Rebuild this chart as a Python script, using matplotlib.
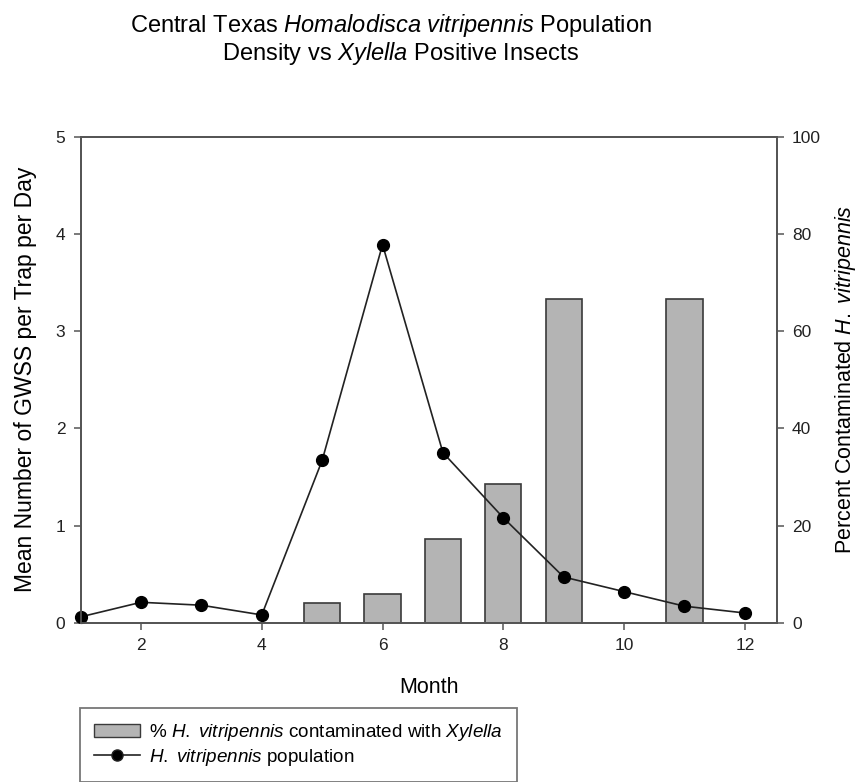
import numpy as np
import matplotlib.pyplot as plt
from matplotlib.patches import Patch
from matplotlib.lines import Line2D

plt.rcParams['font.family'] = ['Liberation Sans', 'DejaVu Sans']
plt.rcParams['mathtext.fontset'] = 'custom'
plt.rcParams['mathtext.rm'] = 'Liberation Sans'
plt.rcParams['mathtext.it'] = 'Liberation Sans:italic'

# Data
months = [1, 2, 3, 4, 5, 6, 7, 8, 9, 10, 11, 12]
population = [0.06, 0.21, 0.18, 0.08, 1.67, 3.89, 1.75, 1.08, 0.47, 0.32, 0.17, 0.10]
bar_months = [5, 6, 7, 8, 9, 11]
pct_contaminated = [4.0, 5.9, 17.2, 28.6, 66.7, 66.7]

spine_col = '#555555'

fig = plt.figure(figsize=(8.67, 7.82), dpi=100)
ax = fig.add_axes([0.093, 0.2037, 0.803, 0.6215])
ax2 = ax.twinx()

# Bars on the right (percent) axis
ax2.bar(bar_months, pct_contaminated, width=0.6, color='#b4b4b4',
        edgecolor='#3a3a3a', linewidth=1.2)
ax2.set_ylim(0, 100)
ax2.set_yticks([0, 20, 40, 60, 80, 100])
ax2.set_ylabel('Percent Contaminated $\\it{H.}$ $\\it{vitripennis}$', fontsize=15.5)
ax2.yaxis.set_label_coords(1.08, 0.5)

# Line on the left axis, drawn above the bars
ax.set_zorder(ax2.get_zorder() + 1)
ax.patch.set_visible(False)
ax.plot(months, population, color='#222222', linewidth=1.2, marker='o',
        markersize=8.5, markerfacecolor='black', markeredgecolor='black',
        clip_on=False)
ax.set_xlim(1, 12.53)
ax.set_ylim(0, 5)
ax.set_xticks([2, 4, 6, 8, 10, 12])
ax.set_yticks([0, 1, 2, 3, 4, 5])
ax.set_ylabel('Mean Number of GWSS per Trap per Day', fontsize=16.5)
ax.yaxis.set_label_coords(-0.063, 0.5)
ax.set_xlabel('Month', fontsize=15.5)
ax.xaxis.set_label_coords(0.5, -0.112)

for a in (ax, ax2):
    for s in a.spines.values():
        s.set_color(spine_col)
        s.set_linewidth(1.3)
    a.tick_params(colors='#222222', labelsize=12.5, length=5, width=1.1,
                  direction='out', pad=6)
    a.tick_params(color=spine_col)

# Title
fig.text(0.451, 0.959, 'Central Texas $\\it{Homalodisca}$ $\\it{vitripennis}$ Population',
         ha='center', va='baseline', fontsize=17)
fig.text(0.462, 0.923, 'Density vs $\\it{Xylella}$ Positive Insects',
         ha='center', va='baseline', fontsize=17)

# Legend
handles = [
    Patch(facecolor='#b4b4b4', edgecolor='#3a3a3a', linewidth=1.0),
    Line2D([0], [0], color='#222222', linewidth=1.2, marker='o',
           markersize=8, markerfacecolor='black'),
]
labels = [
    '% $\\it{H.}$ $\\it{vitripennis}$ contaminated with $\\it{Xylella}$',
    '$\\it{H.}$ $\\it{vitripennis}$ population',
]
leg = fig.legend(handles, labels, loc='upper left',
                 bbox_to_anchor=(0.0923, 0.0946), fontsize=13.6,
                 frameon=True, fancybox=False, edgecolor=spine_col,
                 borderpad=0.75, labelspacing=0.2, handlelength=2.4,
                 handletextpad=0.5, borderaxespad=0)
leg.get_frame().set_linewidth(1.3)

fig.savefig('out.png', dpi=100)
